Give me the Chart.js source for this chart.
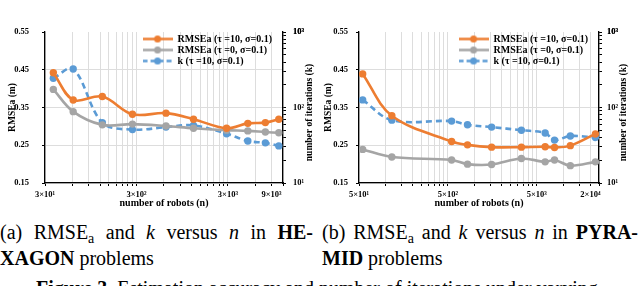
<!DOCTYPE html>
<html>
<head>
<meta charset="utf-8">
<script src="https://cdn.jsdelivr.net/npm/chart.js@4.4.1/dist/chart.umd.min.js"></script>
<style>
  body { margin: 0; width: 640px; height: 286px; overflow: hidden; background: #fff; position: relative; font-family: 'Liberation Serif', 'DejaVu Serif', 'Times New Roman', serif; color: #000; }
  canvas { position: absolute; top: 0; }
  #hexChart { left: 0; }
  #pyrChart { left: 320px; }
  .cap { position: absolute; font-size: 20px; line-height: 24px; white-space: nowrap; }
  .just { text-align: justify; text-align-last: justify; }
  .cap sub { font-size: 14px; line-height: 0; vertical-align: -4px; }
</style>
</head>
<body>
<canvas id="hexChart" width="320" height="212"></canvas>
<canvas id="pyrChart" width="320" height="212"></canvas>
<div class="cap just" style="left:0; top:220px; width:313px;">(a) RMSE<sub>a</sub> and <i>k</i> versus <i>n</i> in <b>HE-</b></div>
<div class="cap" style="left:0; top:246px;"><b>XAGON</b> problems</div>
<div class="cap just" style="left:322px; top:220px; width:316px;">(b) RMSE<sub>a</sub> and <i>k</i> versus <i>n</i> in <b>PYRA-</b></div>
<div class="cap" style="left:322px; top:246px;"><b>MID</b> problems</div>
<div class="cap" style="left:36px; top:276px;"><b>Figure 3.</b> Estimation accuracy and number of iterations under varying</div>
<script>
// valores
var hexRobots = [37, 61, 127, 271, 631, 1261, 2900, 4950, 7700, 10800];
var hexRmseTau10 = [0.442, 0.370, 0.379, 0.332, 0.335, 0.319, 0.295, 0.308, 0.310, 0.319];
var hexRmseTau0 = [0.398, 0.339, 0.304, 0.306, 0.301, 0.295, 0.290, 0.288, 0.285, 0.283];
var hexIterations = [244, 324, 63, 51, 55, 58, 45, 36, 34, 31];

var pyrRobots = [55, 117, 550, 830, 1550, 3350, 6200, 7900, 11900, 22800];
var pyrRmseTau10 = [0.439, 0.328, 0.260, 0.251, 0.245, 0.245, 0.246, 0.244, 0.249, 0.280];
var pyrRmseTau0 = [0.239, 0.219, 0.211, 0.200, 0.199, 0.215, 0.206, 0.211, 0.196, 0.206];
var pyrIterations = [126, 68, 66, 59, 55, 50, 46, 37, 42, 40];

var seriesLabels = ['RMSEa (τ =10, σ=0.1)', 'RMSEa (τ =0, σ=0.1)', 'k (τ =10, σ=0.1)'];
var seriesColors = ['#ED7D31', '#A5A5A5', '#5B9BD5'];

var hexXTicks = [30, 300, 3000, 9000];
var hexXTickLabels = ['3×10¹', '3×10²', '3×10³', '9×10³'];
var pyrXTicks = [50, 500, 5000, 20000];
var pyrXTickLabels = ['5×10¹', '5×10²', '5×10³', '2×10⁴'];
var rmseTicks = [0.15, 0.25, 0.35, 0.45, 0.55];
var iterTicks = [10, 100, 1000];
var iterTickLabels = ['10¹', '10²', '10³'];

var familia = "'Liberation Serif', 'DejaVu Serif', 'Times New Roman', serif";
Chart.defaults.font.family = familia;
Chart.defaults.font.weight = 'bold';
Chart.defaults.color = '#000';

// lineas de rejilla en los multiplos de la base (estilo Excel)
function minorSteps(base, max) {
    var out = [];
    for (var dec = base; dec <= max; dec *= 10) {
        for (var k = 1; k <= 9; k++) {
            var v = Math.round(dec * k);
            if (v <= max) out.push(v);
        }
    }
    return out;
}

function legendIcon(color, dash) {
    var c = document.createElement('canvas');
    c.width = 30; c.height = 9;
    var g = c.getContext('2d');
    g.strokeStyle = color; g.lineWidth = 2.5; g.setLineDash(dash || []);
    g.beginPath(); g.moveTo(0, 4.5); g.lineTo(30, 4.5); g.stroke();
    g.fillStyle = color;
    g.beginPath(); g.arc(15, 4.5, 3.5, 0, Math.PI * 2); g.fill();
    return c;
}
var legendIcons = [legendIcon(seriesColors[0]), legendIcon(seriesColors[1]), legendIcon(seriesColors[2], [5, 3])];

var legendInside = {
    id: 'legendInside',
    afterLayout: function(chart) {
        var lg = chart.legend, area = chart.chartArea;
        var w = lg.width;
        lg.left = area.right - w - 1;
        lg.right = lg.left + w;
        lg.top = area.top + 1;
    }
};

var sideTitle = {
    id: 'sideTitle',
    afterDraw: function(chart, args, opts) {
        var g = chart.ctx;
        g.save();
        g.translate(opts.x, (chart.chartArea.top + chart.chartArea.bottom) / 2 + 5);
        g.rotate(-Math.PI / 2);
        g.font = 'bold 9.5px ' + familia;
        g.fillStyle = '#000';
        g.textAlign = 'center';
        g.textBaseline = 'middle';
        g.fillText(opts.text, 0, 0);
        g.restore();
    }
};

function puntos(xs, ys) {
    return xs.map(function(x, i) { return { x: x, y: ys[i] }; });
}

function crearGrafico(id, cfg) {
    var xGrid = minorSteps(cfg.xTicks[0], cfg.xMax);
    var iterGrid = minorSteps(10, 1000);
    var mkSet = function(i, data, axis) {
        return {
            label: seriesLabels[i],
            data: data,
            yAxisID: axis,
            borderColor: seriesColors[i],
            backgroundColor: seriesColors[i],
            borderWidth: 2.6,
            borderDash: i === 2 ? [6, 4] : [],
            pointRadius: 3.7,
            pointHoverRadius: 3.7,
            pointBorderWidth: 0,
            tension: 0.35
        };
    };
    return new Chart(document.getElementById(id).getContext('2d'), {
        type: 'line',
        data: {
            datasets: [
                mkSet(0, puntos(cfg.robots, cfg.rmse10), 'y'),
                mkSet(1, puntos(cfg.robots, cfg.rmse0), 'y'),
                mkSet(2, puntos(cfg.robots, cfg.iters), 'y2')
            ]
        },
        options: {
            responsive: false,
            animation: false,
            devicePixelRatio: 1,
            layout: { padding: { top: 32, left: 0, right: 0, bottom: 0 } },
            plugins: {
                tooltip: { enabled: false },
                legend: {
                    position: 'chartArea',
                    align: 'start',
                    labels: {
                        usePointStyle: true,
                        pointStyleWidth: 30,
                        padding: 1,
                        font: { size: 10, weight: 'bold' },
                        generateLabels: function(chart) {
                            var items = Chart.defaults.plugins.legend.labels.generateLabels(chart);
                            items.forEach(function(it, i) { it.pointStyle = legendIcons[i]; });
                            return items;
                        }
                    }
                },
                sideTitle: { text: 'number of iterations (k)', x: cfg.rightTitleX }
            },
            scales: {
                x: {
                    type: 'logarithmic',
                    min: cfg.xTicks[0],
                    max: cfg.xMax,
                    afterBuildTicks: function(a) { a.ticks = xGrid.map(function(v) { return { value: v }; }); },
                    afterFit: function(a) { a.height = 29; },
                    border: { color: '#000', width: 1.3 },
                    grid: { color: '#dddddd', tickColor: '#000', tickLength: 3 },
                    ticks: {
                        autoSkip: false, maxRotation: 0, minRotation: 0, padding: 4,
                        font: { size: 8.5, weight: 'bold' },
                        callback: function(v) {
                            var i = cfg.xTicks.indexOf(v);
                            return i >= 0 ? cfg.xLabels[i] : '';
                        }
                    },
                    title: { display: true, text: 'number of robots (n)', font: { size: 10, weight: 'bold' }, padding: { top: 0, bottom: 2.3 } }
                },
                y: {
                    position: 'left',
                    min: 0.15, max: 0.55,
                    afterBuildTicks: function(a) { a.ticks = rmseTicks.map(function(v) { return { value: v }; }); },
                    afterFit: function(a) { a.width = cfg.leftW; },
                    border: { color: '#000', width: 1.3 },
                    grid: {
                        color: function(c) { return c.tick && c.tick.value === 0.55 ? 'rgba(0,0,0,0)' : '#dddddd'; },
                        tickColor: '#000', tickLength: 3
                    },
                    ticks: { padding: cfg.leftPad, font: { size: 8.5, weight: 'bold' }, callback: function(v) { return v.toFixed(2); } },
                    title: { display: true, text: 'RMSEa (m)', font: { size: 9.5, weight: 'bold' }, padding: { top: cfg.leftTitlePad, bottom: 0 } }
                },
                y2: {
                    type: 'logarithmic',
                    position: 'right',
                    min: 10, max: 1000,
                    afterBuildTicks: function(a) { a.ticks = iterGrid.concat([1000]).map(function(v) { return { value: v }; }); },
                    afterFit: function(a) { a.width = cfg.rightW; },
                    border: { color: '#000', width: 1.3 },
                    grid: { drawOnChartArea: false, tickColor: '#000', tickLength: 3 },
                    ticks: {
                        autoSkip: false, padding: cfg.rightPad, font: { size: 8.5, weight: 'bold' },
                        callback: function(v) {
                            var i = iterTicks.indexOf(v);
                            return i >= 0 ? iterTickLabels[i] : '';
                        }
                    }
                }
            }
        },
        plugins: [legendInside, sideTitle]
    });
}

crearGrafico('hexChart', {
    robots: hexRobots, rmse10: hexRmseTau10, rmse0: hexRmseTau0, iters: hexIterations,
    xTicks: hexXTicks, xLabels: hexXTickLabels, xMax: 12000,
    leftW: 45, rightW: 37, leftPad: 13, rightPad: 7, leftTitlePad: 7.3, rightTitleX: 310
});
crearGrafico('pyrChart', {
    robots: pyrRobots, rmse10: pyrRmseTau10, rmse0: pyrRmseTau0, iters: pyrIterations,
    xTicks: pyrXTicks, xLabels: pyrXTickLabels, xMax: 25000,
    leftW: 39, rightW: 41, leftPad: 8, rightPad: 5, leftTitlePad: 2.8, rightTitleX: 303.5
});
</script>
</body>
</html>
